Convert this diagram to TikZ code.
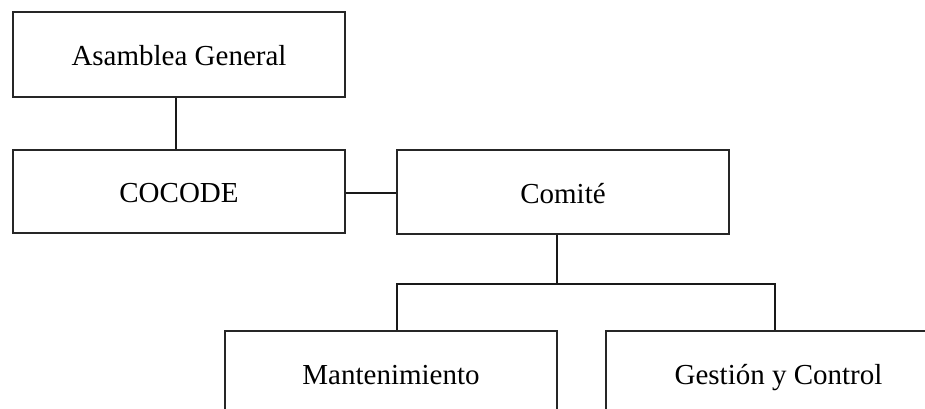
\documentclass[tikz,border=0pt]{standalone}
\usepackage{fontspec}
\setmainfont{Liberation Serif}
\begin{document}
\begin{tikzpicture}[x=1pt,y=-1pt,
  orgbox/.style={draw=black!85,line width=1.1pt,minimum width=332pt,inner sep=0pt,
    text height=22pt,text depth=0pt,
    font=\fontsize{29}{34}\selectfont,text=black},
  conn/.style={draw=black!90,line width=1.1pt}]
\useasboundingbox (0,0) rectangle (925,409);
\clip (0,0) rectangle (925,409);
\node[orgbox,minimum height=85pt] (asam) at (179,54.5) {Asamblea General};
\node[orgbox,minimum height=83pt] (cocode) at (179,191.5) {COCODE};
\node[orgbox,minimum height=84pt] (comite) at (563,192) {Comité};
\node[orgbox,minimum height=84pt] (mant) at (391,373) {Mantenimiento};
\node[orgbox,minimum height=84pt,minimum width=345pt] (gest) at (778.5,373) {Gestión y Control};
\coordinate (j1) at (176,0);
\coordinate (jy) at (0,193);
\coordinate (cA) at (557,284);
\coordinate (cL) at (397,284);
\coordinate (cR) at (775,284);
\draw[conn] (asam.south -| j1) -- (cocode.north -| j1);
\draw[conn] (cocode.east |- jy) -- (comite.west |- jy);
\draw[conn] (comite.south -| cA) -- (cA);
\draw[conn] (mant.north -| cL) -- (cL) -- (cR) -- (gest.north -| cR);
\end{tikzpicture}
\end{document}
